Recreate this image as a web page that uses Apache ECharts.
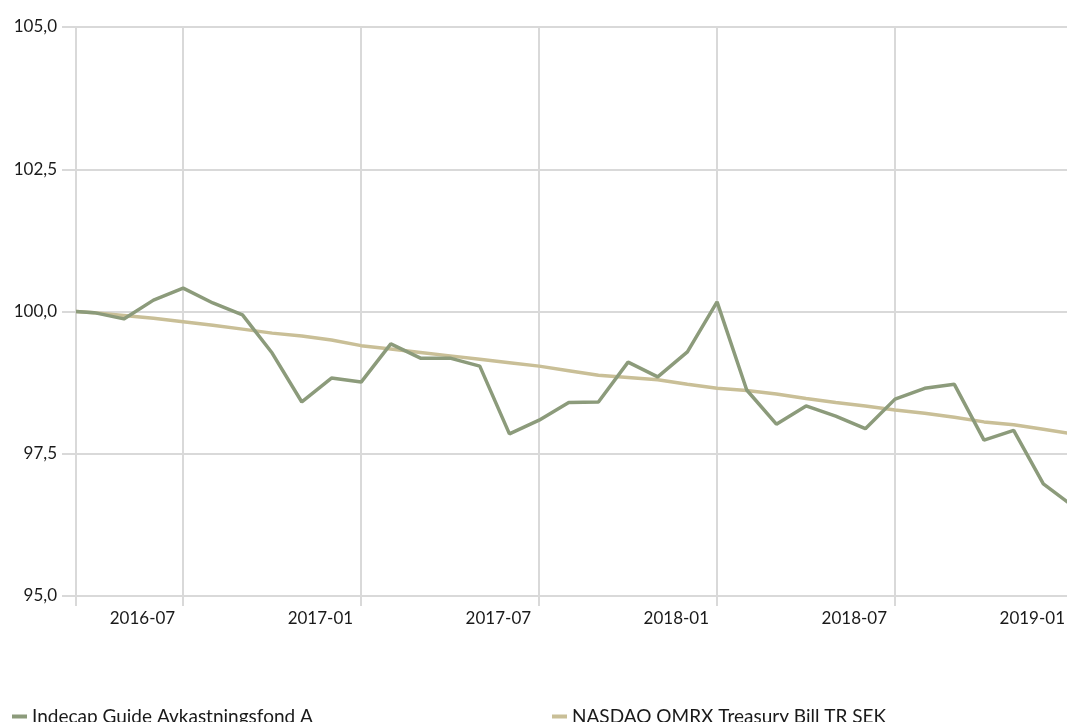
<!DOCTYPE html>
<html>
<head>
<meta charset="utf-8">
<script src="https://cdn.jsdelivr.net/npm/echarts@6/dist/echarts.min.js"></script>
<style>
html,body{margin:0;padding:0;background:#fff;}
#main{width:1067px;height:722px;}
</style>
</head>
<body>
<div id="main"></div>
<script>
var dates = ['2016-03-12','2016-03-31','2016-04-30','2016-05-31','2016-06-30','2016-07-31','2016-08-31','2016-09-30','2016-10-31','2016-11-30','2016-12-31',
'2017-01-31','2017-02-28','2017-03-31','2017-04-30','2017-05-31','2017-06-30','2017-07-31','2017-08-31','2017-09-30','2017-10-31','2017-11-30','2017-12-31',
'2018-01-31','2018-02-28','2018-03-31','2018-04-30','2018-05-31','2018-06-30','2018-07-31','2018-08-31','2018-09-30','2018-10-31','2018-11-30','2018-12-31'];
var fundName = 'Indecap Guide Avkastningsfond A';
var benchName = 'NASDAQ OMRX Treasury Bill TR SEK';
var fundValues = [100.00,99.98,99.87,100.20,100.41,100.15,99.94,99.27,98.41,98.83,98.76,
99.43,99.18,99.18,99.04,97.85,98.09,98.40,98.41,99.11,98.85,99.29,100.17,
98.62,98.02,98.34,98.16,97.94,98.46,98.65,98.72,97.74,97.91,96.97,96.58];
var benchValues = [100.00,99.98,99.93,99.88,99.82,99.76,99.69,99.62,99.57,99.50,99.40,
99.34,99.28,99.22,99.16,99.10,99.04,98.96,98.88,98.84,98.80,98.72,98.65,
98.61,98.55,98.47,98.40,98.34,98.27,98.21,98.14,98.06,98.01,97.93,97.85];
var xTickLabels = ['2016-07','2017-01','2017-07','2018-01','2018-07','2019-01'];
var yTicks = [95, 97.5, 100, 102.5, 105];

// month-based position (uniform months, as in the reference chart)
var BASE_YEAR = 2016;
function monthPos(s){
  var p = s.split('-').map(Number);
  var y = p[0], m = p[1], d = p[2] || 0;
  var dim = new Date(Date.UTC(y, m, 0)).getUTCDate();
  return (y - BASE_YEAR) * 12 + (m - 1) + d / dim;
}
function posLabel(v){
  var k = Math.round(v);
  var y = BASE_YEAR + Math.floor(k / 12);
  var m = (k % 12) + 1;
  return y + '-' + (m < 10 ? '0' + m : m);
}
function pairs(vals){ return dates.map(function(d,i){ return [monthPos(d), vals[i]]; }); }

var xMin = monthPos(dates[0]);
var xMax = monthPos(xTickLabels[xTickLabels.length - 1]);
var labelVals = xTickLabels.map(function(s){ return monthPos(s); });
var tickVals = [xMin].concat(labelVals);

var FONT = 'Lato';
var TXT = '#1a1a1a';
var GRID = '#d9d9d9';
var chart = echarts.init(document.getElementById('main'));
chart.setOption({
  animation: false,
  backgroundColor: '#ffffff',
  grid: {left: 76, right: -6, top: 27, bottom: 126, containLabel: false, outerBoundsMode: 'none'},
  xAxis: {
    type: 'value',
    min: xMin,
    max: xMax,
    axisLine: {show: false},
    axisTick: {show: true, length: 10, customValues: tickVals, lineStyle: {color: GRID, width: 2}},
    splitLine: {show: true, lineStyle: {color: GRID, width: 2}},
    axisLabel: {
      fontFamily: FONT, fontSize: 17, color: TXT, margin: 14,
      align: 'right', padding: [0, 8, 0, 0],
      customValues: labelVals,
      showMinLabel: true, showMaxLabel: true, hideOverlap: false,
      formatter: function(v){ return posLabel(v); }
    }
  },
  yAxis: {
    type: 'value',
    min: yTicks[0],
    max: yTicks[yTicks.length - 1],
    interval: 2.5,
    axisLine: {show: true, lineStyle: {color: GRID, width: 2}},
    axisTick: {show: true, length: 14, lineStyle: {color: GRID, width: 2}},
    splitLine: {show: true, lineStyle: {color: GRID, width: 2}},
    axisLabel: {
      fontFamily: FONT, fontSize: 17, color: TXT, margin: 19,
      formatter: function(v){ return v.toFixed(1).replace('.', ','); }
    }
  },
  legend: [
    {left: 7, top: 702, data: [fundName], icon: 'rect', itemWidth: 15, itemHeight: 4,
     textStyle: {fontFamily: FONT, fontSize: 19, color: TXT, padding: [0,0,0,0]}},
    {left: 547, top: 702, data: [benchName], icon: 'rect', itemWidth: 15, itemHeight: 4,
     textStyle: {fontFamily: FONT, fontSize: 19, color: TXT, padding: [0,0,0,0]}}
  ],
  series: [
    {name: benchName, type: 'line', data: pairs(benchValues), showSymbol: false,
     color: '#c9bf97', lineStyle: {width: 3.5, color: '#c9bf97'}, z: 2},
    {name: fundName, type: 'line', data: pairs(fundValues), showSymbol: false,
     color: '#8c9b7b', lineStyle: {width: 3.5, color: '#8c9b7b'}, z: 3}
  ]
});
</script>
</body>
</html>
